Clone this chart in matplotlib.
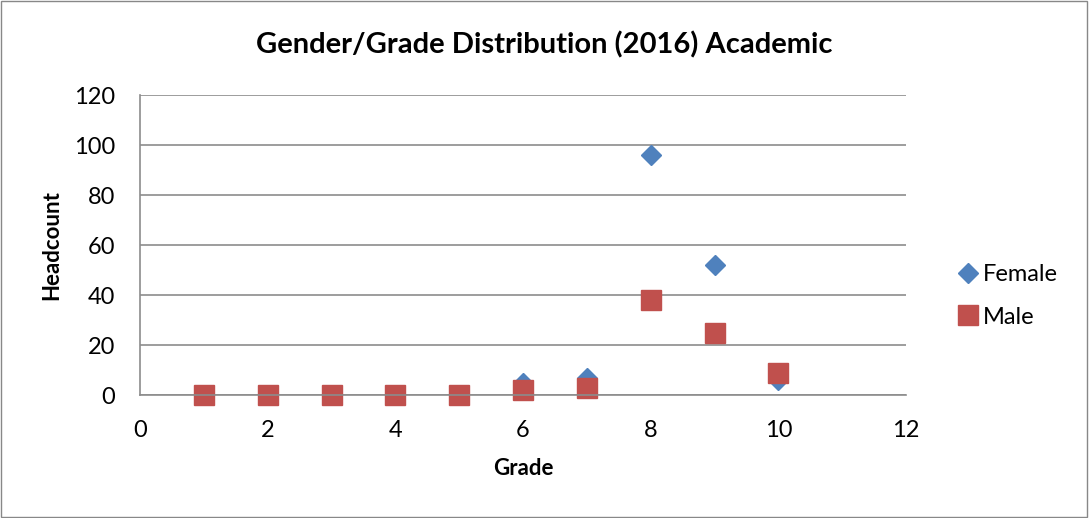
import matplotlib.pyplot as plt
import numpy as np
from matplotlib.patches import Rectangle

grades = [1, 2, 3, 4, 5, 6, 7, 8, 9, 10]
female = [0, 0, 0, 0, 0, 5, 7, 96, 52, 6]
male = [0, 0, 0, 0, 0, 2, 3, 38, 25, 9]

xticks = [0, 2, 4, 6, 8, 10, 12]
yticks = [0, 20, 40, 60, 80, 100, 120]

plt.rcParams['font.family'] = ['Lato', 'DejaVu Sans']

fig = plt.figure(figsize=(10.89, 5.18), dpi=100)
# chart border
fig.patches.append(Rectangle((0.001, 0.002), 0.997, 0.996, transform=fig.transFigure,
                             fill=False, edgecolor='#888888', linewidth=1))

ax = fig.add_axes([140/1089, 1 - 395/518, (906-140)/1089, 300/518])
ax.set_xlim(0, 12)
ax.set_ylim(0, 120)
ax.set_xticks(xticks)
ax.set_yticks(yticks)
ax.tick_params(length=0, labelsize=17)
ax.tick_params(axis='x', pad=18)
ax.tick_params(axis='y', pad=18)
ax.grid(axis='y', color='#8c8c8c', linewidth=1.2)
ax.set_axisbelow(True)
for s in ['top', 'right']:
    ax.spines[s].set_visible(False)
for s in ['left', 'bottom']:
    ax.spines[s].set_color('#8c8c8c')
    ax.spines[s].set_linewidth(1.2)

ax.plot(grades, female, 'D', color='#4f81bd', markersize=10, linestyle='none',
        label='Female', clip_on=False)
ax.plot(grades, male, 's', color='#c0504d', markersize=15, linestyle='none',
        label='Male', clip_on=False)

ax.set_xlabel('Grade', fontsize=16, fontweight='bold', labelpad=12)
ax.set_ylabel('Headcount', fontsize=16, fontweight='bold', labelpad=8)
fig.text(0.5, 1 - 45/518, 'Gender/Grade Distribution (2016) Academic', fontsize=21,
         fontweight='bold', ha='center', va='center')

ax.legend(loc='center left', bbox_to_anchor=(1.05, 0.33), frameon=False,
          fontsize=17, handletextpad=0.05, labelspacing=0.9, borderaxespad=0,
          handlelength=1.2)

fig.savefig('out.png', dpi=100)
